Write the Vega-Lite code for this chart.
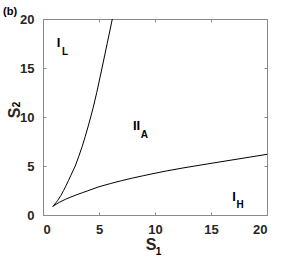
{
  "$schema": "https://vega.github.io/schema/vega-lite/v6.json",
  "autosize": "none",
  "padding": {"left": 43, "top": 19, "right": 28, "bottom": 44},
  "width": 224,
  "height": 196,
  "title": {"text": "(b)", "anchor": "start", "frame": "group", "dx": -40, "dy": 13, "offset": 0, "fontSize": 11, "font": "Liberation Sans", "fontWeight": "bold", "color": "#000000", "baseline": "alphabetic"},
  "config": {
    "view": {"stroke": "#8a8a8a", "strokeWidth": 1},
    "axis": {
      "domainColor": "#8a8a8a", "tickColor": "#8a8a8a", "tickSize": -3, "grid": false,
      "labelFont": "Liberation Sans", "labelFontWeight": "bold", "labelFontSize": 13, "labelColor": "#262626",
      "titleFont": "Liberation Sans", "titleFontWeight": "bold", "titleFontSize": 16, "titleColor": "#262626"
    }
  },
  "datasets": {
    "curves": [
      {"curve": "lower", "i": 0, "s1": 0.87, "s2": 0.87},
      {"curve": "lower", "i": 1, "s1": 1.0, "s2": 0.97},
      {"curve": "lower", "i": 2, "s1": 1.25, "s2": 1.15},
      {"curve": "lower", "i": 3, "s1": 1.5, "s2": 1.32},
      {"curve": "lower", "i": 4, "s1": 2.0, "s2": 1.6},
      {"curve": "lower", "i": 5, "s1": 2.5, "s2": 1.84},
      {"curve": "lower", "i": 6, "s1": 3.0, "s2": 2.06},
      {"curve": "lower", "i": 7, "s1": 3.5, "s2": 2.27},
      {"curve": "lower", "i": 8, "s1": 4.0, "s2": 2.47},
      {"curve": "lower", "i": 9, "s1": 5.0, "s2": 2.88},
      {"curve": "lower", "i": 10, "s1": 6.0, "s2": 3.2},
      {"curve": "lower", "i": 11, "s1": 7.0, "s2": 3.5},
      {"curve": "lower", "i": 12, "s1": 8.0, "s2": 3.77},
      {"curve": "lower", "i": 13, "s1": 9.0, "s2": 4.02},
      {"curve": "lower", "i": 14, "s1": 10.0, "s2": 4.26},
      {"curve": "lower", "i": 15, "s1": 11.0, "s2": 4.49},
      {"curve": "lower", "i": 16, "s1": 12.5, "s2": 4.8},
      {"curve": "lower", "i": 17, "s1": 15.0, "s2": 5.27},
      {"curve": "lower", "i": 18, "s1": 17.5, "s2": 5.73},
      {"curve": "lower", "i": 19, "s1": 20.0, "s2": 6.19},
      {"curve": "upper", "i": 0, "s1": 0.87, "s2": 0.87},
      {"curve": "upper", "i": 1, "s1": 0.97, "s2": 1.0},
      {"curve": "upper", "i": 2, "s1": 1.15, "s2": 1.25},
      {"curve": "upper", "i": 3, "s1": 1.32, "s2": 1.5},
      {"curve": "upper", "i": 4, "s1": 1.6, "s2": 2.0},
      {"curve": "upper", "i": 5, "s1": 1.84, "s2": 2.5},
      {"curve": "upper", "i": 6, "s1": 2.06, "s2": 3.0},
      {"curve": "upper", "i": 7, "s1": 2.27, "s2": 3.5},
      {"curve": "upper", "i": 8, "s1": 2.47, "s2": 4.0},
      {"curve": "upper", "i": 9, "s1": 2.88, "s2": 5.0},
      {"curve": "upper", "i": 10, "s1": 3.2, "s2": 6.0},
      {"curve": "upper", "i": 11, "s1": 3.5, "s2": 7.0},
      {"curve": "upper", "i": 12, "s1": 3.77, "s2": 8.0},
      {"curve": "upper", "i": 13, "s1": 4.02, "s2": 9.0},
      {"curve": "upper", "i": 14, "s1": 4.26, "s2": 10.0},
      {"curve": "upper", "i": 15, "s1": 4.49, "s2": 11.0},
      {"curve": "upper", "i": 16, "s1": 4.8, "s2": 12.5},
      {"curve": "upper", "i": 17, "s1": 5.27, "s2": 15.0},
      {"curve": "upper", "i": 18, "s1": 5.73, "s2": 17.5},
      {"curve": "upper", "i": 19, "s1": 6.19, "s2": 20.0}
    ],
    "labels": [
      {"kind": "main", "t": "I", "s1": 1.38, "s2": 17.1, "angle": 0},
      {"kind": "sub", "t": "L", "s1": 1.96, "s2": 16.33, "angle": 0},
      {"kind": "main", "t": "II", "s1": 8.35, "s2": 8.67, "angle": 0},
      {"kind": "sub", "t": "A", "s1": 9.06, "s2": 7.86, "angle": 0},
      {"kind": "main", "t": "I", "s1": 17.05, "s2": 1.43, "angle": 0},
      {"kind": "sub", "t": "H", "s1": 17.59, "s2": 0.71, "angle": 0},
      {"kind": "axissub", "t": "1", "s1": 10.31, "s2": -4.08, "angle": 0},
      {"kind": "axissub", "t": "2", "s1": -2.05, "s2": 11.28, "angle": 270}
    ]
  },
  "layer": [
    {
      "data": {"name": "curves"},
      "mark": {"type": "line", "color": "#000000", "strokeWidth": 1},
      "encoding": {
        "x": {"field": "s1", "type": "quantitative", "scale": {"domain": [0, 20]}, "axis": {"values": [0, 5, 10, 15, 20], "title": "S", "labelPadding": 11, "titleX": 107.5, "titleY": 34, "titleBaseline": "alphabetic"}},
        "y": {"field": "s2", "type": "quantitative", "scale": {"domain": [0, 20]}, "axis": {"values": [0, 5, 10, 15, 20], "title": "S", "labelPadding": 12, "titleX": -24, "titleY": 93.5, "titleBaseline": "alphabetic"}},
        "detail": {"field": "curve"},
        "order": {"field": "i", "type": "quantitative"}
      }
    },
    {
      "data": {"name": "labels"},
      "transform": [{"filter": "datum.kind === 'main'"}],
      "mark": {"type": "text", "font": "Liberation Sans", "fontWeight": "bold", "fontSize": 13, "align": "center", "baseline": "alphabetic", "color": "#000000"},
      "encoding": {
        "x": {"field": "s1", "type": "quantitative", "axis": {"orient": "top", "values": [0, 5, 10, 15, 20], "labels": false, "title": null, "domain": false}},
        "y": {"field": "s2", "type": "quantitative", "axis": {"orient": "right", "values": [0, 5, 10, 15, 20], "labels": false, "title": null, "domain": false}},
        "text": {"field": "t"}
      }
    },
    {
      "data": {"name": "labels"},
      "transform": [{"filter": "datum.kind !== 'main'"}],
      "mark": {"type": "text", "font": "Liberation Sans", "fontWeight": "bold", "fontSize": 10, "align": "center", "baseline": "alphabetic", "color": "#000000"},
      "encoding": {
        "x": {"field": "s1", "type": "quantitative", "axis": null},
        "y": {"field": "s2", "type": "quantitative", "axis": null},
        "text": {"field": "t"},
        "angle": {"field": "angle", "type": "quantitative", "scale": null}
      }
    }
  ],
  "resolve": {"axis": {"x": "independent", "y": "independent"}}
}
